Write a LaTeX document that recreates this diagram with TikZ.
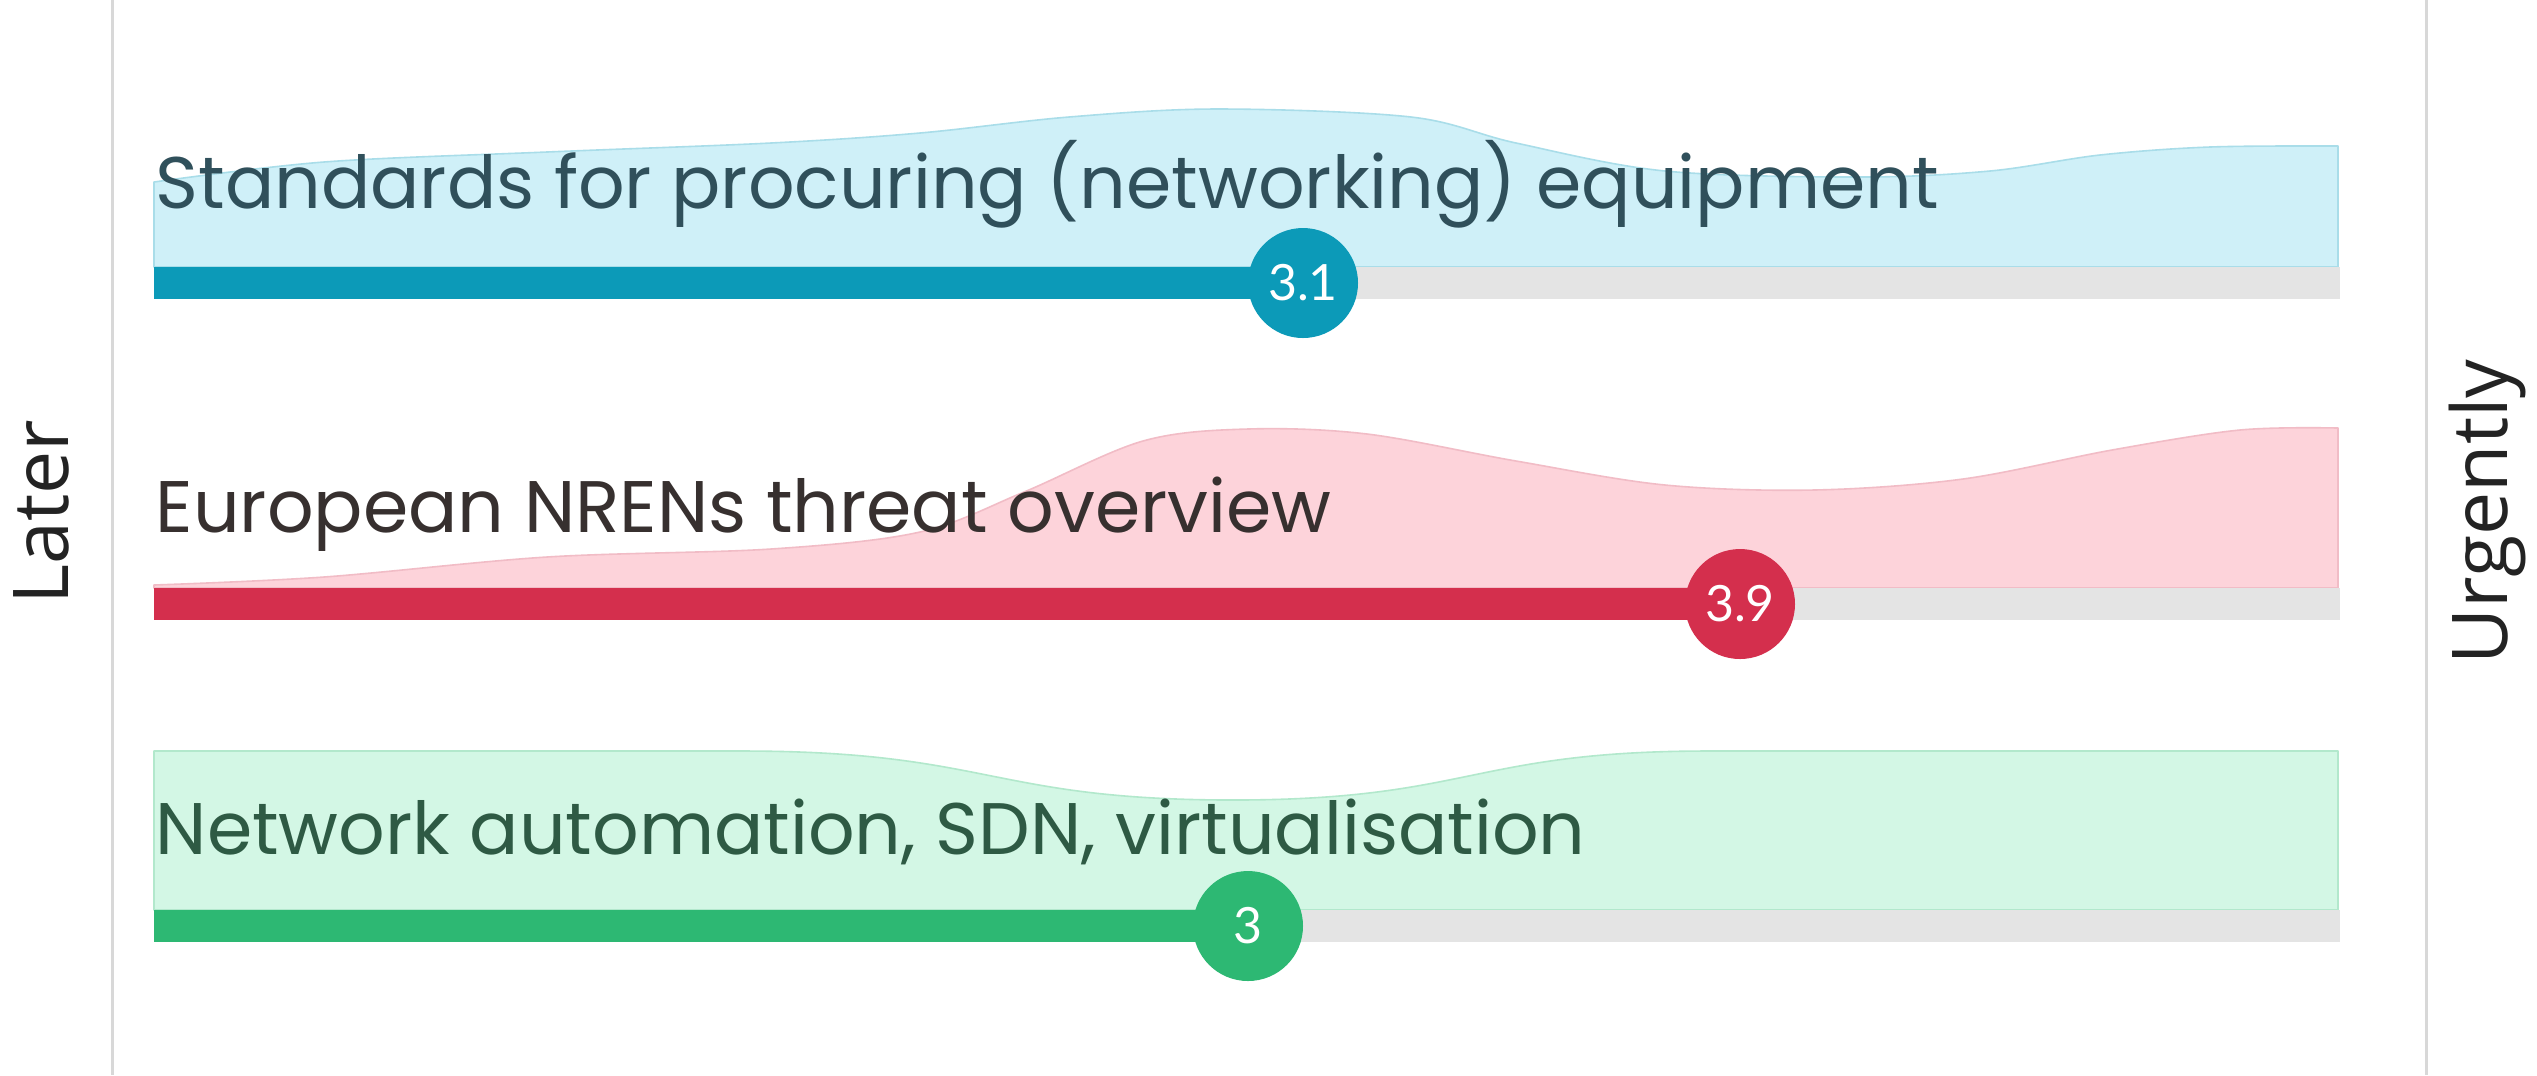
\documentclass[tikz,border=0pt]{standalone}
\usepackage{fontspec}
\setmainfont{Poppins}
\newfontfamily\sidefont{Open Sans}
\newfontfamily\numfont{Lato}

\definecolor{axisgray}{HTML}{D8D8D8}
\definecolor{trackgray}{HTML}{E4E4E4}
\definecolor{sidegray}{HTML}{232323}
\definecolor{bluebar}{HTML}{0C9AB8}
\definecolor{bluefill}{HTML}{CFF0F8}
\definecolor{blueedge}{HTML}{A9DDE9}
\definecolor{bluetext}{HTML}{30505B}
\definecolor{redbar}{HTML}{D42F4D}
\definecolor{redfill}{HTML}{FDD3DA}
\definecolor{rededge}{HTML}{F1BCC6}
\definecolor{redtext}{HTML}{37302F}
\definecolor{greenbar}{HTML}{2DB873}
\definecolor{greenfill}{HTML}{D3F7E5}
\definecolor{greenedge}{HTML}{B2E8CC}
\definecolor{greentext}{HTML}{2E5A44}

\begin{document}
\begin{tikzpicture}[x=0.25pt, y=-0.25pt,
  axisline/.style={draw=axisgray, line width=0.75pt},
  sidelabel/.style={rotate=90, anchor=base, inner sep=0pt, text=sidegray,
    font=\sidefont\fontsize{19.25}{22}\selectfont},
  topic/.style={anchor=base west, inner sep=0pt,
    font=\fontsize{18.25}{22}\selectfont},
  track/.style={draw=trackgray, line width=8pt, line cap=butt},
  level/.style={line width=8pt, line cap=butt},
  badge/.style={circle, minimum size=27.5pt, inner sep=0pt, text=white,
    font=\numfont\fontsize{12.5}{14}\selectfont},
  band/.style={line width=0.4pt, line join=round},
  wave/.style={smooth, tension=0.55}]

\useasboundingbox (0,0) rectangle (2537,1075);
\fill[white] (0,0) rectangle (2537,1075);

% scale axes at both sides
\coordinate (lt) at (112,0);   \coordinate (lb) at (112,1075);
\coordinate (rt) at (2426,0);  \coordinate (rb) at (2426,1075);
\draw[axisline] (lt) -- (lb);
\draw[axisline] (rt) -- (rb);
\node[sidelabel] (later) at (68,512) {Later};
\node[sidelabel] (urgent) at (2507,512) {Urgently};

% ---- row 1: procurement standards ----
\filldraw[band, fill=bluefill, draw=blueedge]
  (154,267) -- (154,182) -- plot[wave] coordinates {
    (154,182) (324,162) (547,152) (771,143) (920,133) (1069,117)
    (1218,109) (1411,117) (1516,143) (1665,171) (1860,177) (1990,171)
    (2100,155) (2210,147) (2338,146)}
  -- (2338,267) -- cycle;
\node[topic, text=bluetext] (t1) at (155,208)
  {Standards for procuring (networking) equipment};
\coordinate (s1) at (154,283);
\coordinate (e1) at (2340,283);
\draw[track] (s1) -- (e1);
\draw[level, draw=bluebar] (s1) -- (1303,283);
\node[badge, fill=bluebar] (v1) at (1303,283) {3.1};

% ---- row 2: threat overview ----
\filldraw[band, fill=redfill, draw=rededge]
  (154,588) -- (154,585) -- plot[wave] coordinates {
    (154,585) (324,577) (547,557) (771,549) (920,532) (1024,492)
    (1143,441) (1248,429) (1367,434) (1516,461) (1665,485) (1814,490)
    (1963,479) (2112,450) (2240,430) (2338,428)}
  -- (2338,588) -- cycle;
\node[topic, text=redtext] (t2) at (155,532) {European NRENs threat overview};
\coordinate (s2) at (154,604);
\coordinate (e2) at (2340,604);
\draw[track] (s2) -- (e2);
\draw[level, draw=redbar] (s2) -- (1740,604);
\node[badge, fill=redbar] (v2) at (1740,604) {3.9};

% ---- row 3: network automation ----
\filldraw[band, fill=greenfill, draw=greenedge]
  (154,910) -- (154,751) -- (741,751)
  .. controls (990,751) and (990,800) .. (1233,800)
  .. controls (1471,800) and (1471,751) .. (1709,751)
  -- (2338,751) -- (2338,910) -- cycle;
\node[topic, text=greentext] (t3) at (155,854)
  {Network automation, SDN, virtualisation};
\coordinate (s3) at (154,926);
\coordinate (e3) at (2340,926);
\draw[track] (s3) -- (e3);
\draw[level, draw=greenbar] (s3) -- (1248,926);
\node[badge, fill=greenbar] (v3) at (1248,926) {3};
\end{tikzpicture}
\end{document}
